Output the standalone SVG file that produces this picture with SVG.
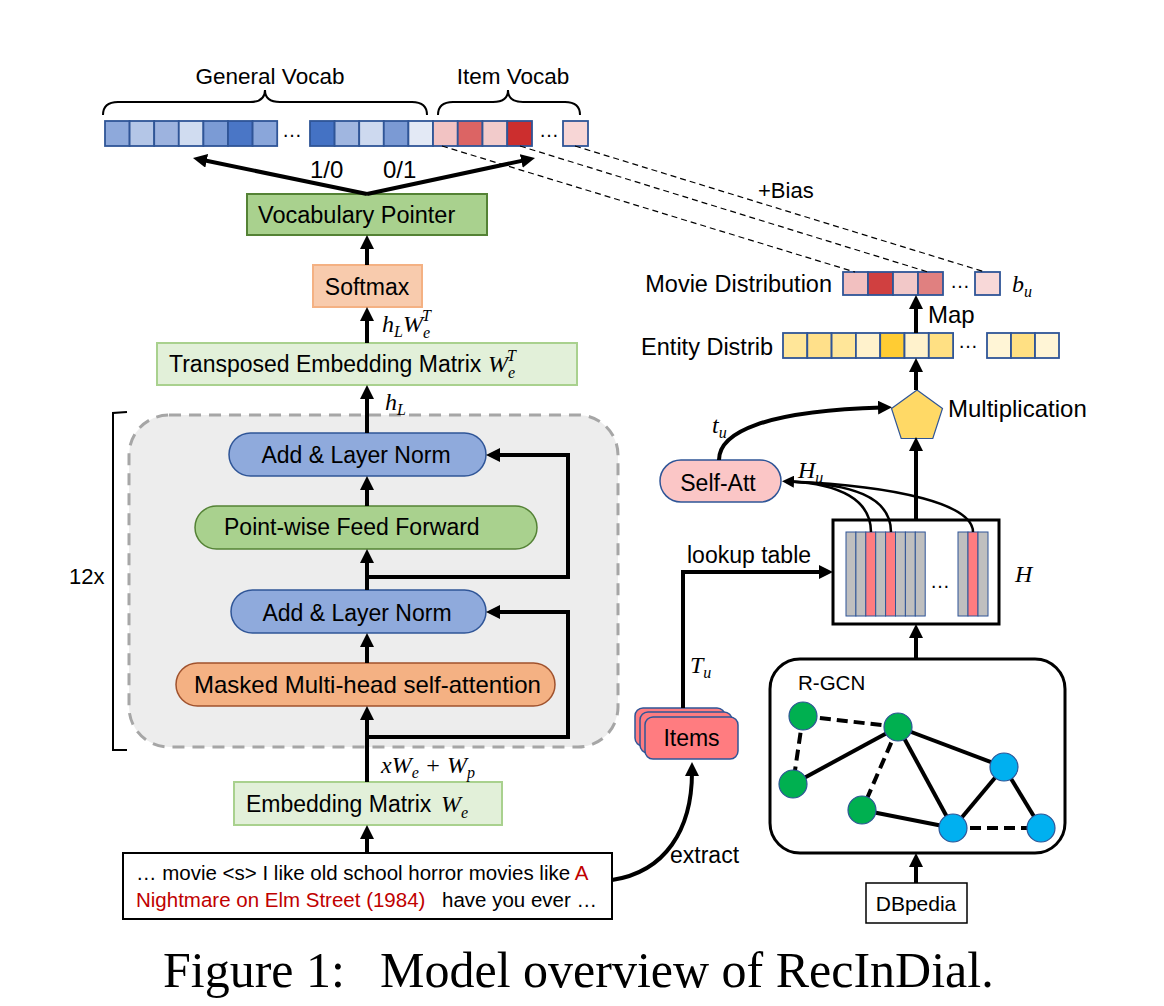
<svg xmlns="http://www.w3.org/2000/svg" width="1164" height="1006" viewBox="0 0 1164 1006">
<defs>
<style>
.t{font-family:"Liberation Sans",Arial,sans-serif;font-size:23px;fill:#000}
.m{font-family:"Liberation Serif","Times New Roman",serif;font-style:italic;font-size:24px;fill:#000}
.sub{font-size:16px}
.dots{font-size:20px}
.cell{stroke:#2f5597;stroke-width:1.8}
.col{stroke:#2f5597;stroke-width:1}
.ar{fill:none;stroke:#000;stroke-width:4;marker-end:url(#ah)}
.thin{fill:none;stroke:#000;stroke-width:2.5}
.dash{fill:none;stroke:#000;stroke-width:1.2;stroke-dasharray:6,4}
.edge{stroke:#000;stroke-width:4}
.edged{stroke:#000;stroke-width:4;stroke-dasharray:11,6}
.gn{fill:#00b050;stroke:#2f5597;stroke-width:1.2}
.bn{fill:#00b0f0;stroke:#2f5597;stroke-width:1.2}
</style>
<marker id="ah" viewBox="0 0 14 14" markerUnits="userSpaceOnUse" markerWidth="14" markerHeight="14" refX="4" refY="7" orient="auto">
<path d="M0,0 L14,7 L0,14 z" fill="#000"/>
</marker>
<marker id="ahs" viewBox="0 0 12 12" markerUnits="userSpaceOnUse" markerWidth="12" markerHeight="12" refX="4" refY="6" orient="auto">
<path d="M0,0 L12,6 L0,12 z" fill="#000"/>
</marker>
</defs>
<rect width="1164" height="1006" fill="#fff"/>

<!-- transformer container -->
<g id="container">
<rect x="129" y="415" width="489" height="332" rx="40" fill="#ededed" stroke="#a6a6a6" stroke-width="3" stroke-dasharray="12,8"/>
<path d="M127,412 L113,413 V750 H127" fill="none" stroke="#000" stroke-width="2"/>
<text class="t" x="69" y="584" style="font-size:22px">12x</text>
</g>

<!-- vocab bar -->
<g id="vocab">
<path d="M103,115 Q103,102 118,102 H250 Q265,102 265,90 Q265,102 280,102 H412 Q427,102 427,115" fill="none" stroke="#000" stroke-width="2"/>
<path d="M438,115 Q438,102 453,102 H493 Q508,102 508,90 Q508,102 523,102 H565 Q580,102 580,115" fill="none" stroke="#000" stroke-width="2"/>
<text class="t" x="270" y="84" text-anchor="middle" style="font-size:22.5px">General Vocab</text>
<text class="t" x="513" y="84" text-anchor="middle" style="font-size:22.5px">Item Vocab</text>
<rect class="cell" x="105" y="121" width="24.6" height="25" fill="#8ea9db"/>
<rect class="cell" x="129.6" y="121" width="24.6" height="25" fill="#b4c6e7"/>
<rect class="cell" x="154.2" y="121" width="24.6" height="25" fill="#9db3df"/>
<rect class="cell" x="178.8" y="121" width="24.6" height="25" fill="#d0dcf0"/>
<rect class="cell" x="203.4" y="121" width="24.6" height="25" fill="#7b9bd5"/>
<rect class="cell" x="228" y="121" width="24.6" height="25" fill="#4a76c6"/>
<rect class="cell" x="252.6" y="121" width="24.6" height="25" fill="#8aa6da"/>
<text class="t dots" x="292" y="137" text-anchor="middle">…</text>
<rect class="cell" x="310" y="121" width="24.6" height="25" fill="#4472c4"/>
<rect class="cell" x="334.6" y="121" width="24.6" height="25" fill="#a0b6e0"/>
<rect class="cell" x="359.2" y="121" width="24.6" height="25" fill="#cdd9ef"/>
<rect class="cell" x="383.8" y="121" width="24.6" height="25" fill="#7b9ad4"/>
<rect class="cell" x="408.4" y="121" width="24.6" height="25" fill="#e3e9f5"/>
<rect class="cell" x="433" y="121" width="24.75" height="25" fill="#f2c3c3"/>
<rect class="cell" x="457.75" y="121" width="24.75" height="25" fill="#dc6464"/>
<rect class="cell" x="482.5" y="121" width="24.75" height="25" fill="#f2cbcb"/>
<rect class="cell" x="507.25" y="121" width="24.75" height="25" fill="#cc2e2e"/>
<text class="t dots" x="549" y="137" text-anchor="middle">…</text>
<rect class="cell" x="563" y="121" width="25" height="25" fill="#f7d6d6"/>
</g>

<g id="vocab-pointer">
<rect x="247" y="194" width="240" height="41" fill="#a9d18e" stroke="#548235" stroke-width="2"/>
<text class="t" x="258" y="223" style="font-size:23.5px">Vocabulary Pointer</text>
</g>

<g id="softmax">
<rect x="313" y="265" width="109" height="42" fill="#f8cbad" stroke="#f4b183" stroke-width="2"/>
<text class="t" x="367" y="295" text-anchor="middle">Softmax</text>
</g>

<g id="transposed-embedding">
<rect x="157" y="343" width="420" height="42" fill="#e2f0d9" stroke="#a9d18e" stroke-width="2"/>
<text class="t" x="169" y="372">Transposed Embedding Matrix</text>
<text class="m" x="488" y="372">W<tspan class="sub" dy="6">e</tspan><tspan class="sub" dx="-8" dy="-17">T</tspan></text>
</g>

<g id="add-norm-top">
<rect x="229" y="433" width="257" height="43" rx="21.5" fill="#8faadc" stroke="#2f5597" stroke-width="1.5"/>
<text class="t" x="356" y="463" text-anchor="middle">Add &amp; Layer Norm</text>
</g>

<g id="feed-forward">
<rect x="195" y="506" width="342" height="43" rx="21.5" fill="#a9d18e" stroke="#548235" stroke-width="1.5"/>
<text class="t" x="224" y="535">Point-wise Feed Forward</text>
</g>

<g id="add-norm-bottom">
<rect x="231" y="590" width="255" height="43" rx="21.5" fill="#8faadc" stroke="#2f5597" stroke-width="1.5"/>
<text class="t" x="357" y="621" text-anchor="middle">Add &amp; Layer Norm</text>
</g>

<g id="masked-attention">
<rect x="176" y="663" width="379" height="43" rx="21.5" fill="#f4b183" stroke="#a0522d" stroke-width="1.5"/>
<text class="t" x="194" y="693" style="font-size:24px">Masked Multi-head self-attention</text>
</g>

<g id="embedding">
<rect x="234" y="782" width="268" height="43" fill="#e2f0d9" stroke="#a9d18e" stroke-width="2"/>
<text class="t" x="246" y="812">Embedding Matrix</text>
<text class="m" x="441" y="812">W<tspan class="sub" dy="6">e</tspan></text>
</g>

<g id="input-text">
<rect x="123" y="853" width="489" height="66" fill="#fff" stroke="#000" stroke-width="2"/>
<text class="t" x="136" y="880" style="font-size:20.5px">… movie &lt;s&gt; I like old school horror movies like <tspan fill="#c00000">A</tspan></text>
<text class="t" x="136" y="907" style="font-size:20.5px"><tspan fill="#c00000">Nightmare on Elm Street (1984)</tspan><tspan x="442">have you ever …</tspan></text>
</g>

<!-- right side -->
<g id="movie-distribution">
<text class="t" x="832" y="292" text-anchor="end" style="font-size:23.5px">Movie Distribution</text>
<rect class="cell" x="843" y="272" width="25" height="23" fill="#f2c0c0"/>
<rect class="cell" x="868" y="272" width="25" height="23" fill="#d04040"/>
<rect class="cell" x="893" y="272" width="25" height="23" fill="#f2c8c8"/>
<rect class="cell" x="918" y="272" width="25" height="23" fill="#e08080"/>
<text class="t dots" x="960" y="288" text-anchor="middle">…</text>
<rect class="cell" x="975" y="272" width="25" height="23" fill="#f8d8d8"/>
<text class="m" x="1012" y="292">b<tspan class="sub" dy="5">u</tspan></text>
</g>

<g id="entity-distribution">
<text class="t" x="773" y="355" text-anchor="end" style="font-size:23.5px">Entity Distrib</text>
<rect class="cell" x="783" y="333" width="24.3" height="25" fill="#ffe699"/>
<rect class="cell" x="807.3" y="333" width="24.3" height="25" fill="#ffe08a"/>
<rect class="cell" x="831.6" y="333" width="24.3" height="25" fill="#ffe699"/>
<rect class="cell" x="855.9" y="333" width="24.3" height="25" fill="#fff2cc"/>
<rect class="cell" x="880.2" y="333" width="24.3" height="25" fill="#ffcc33"/>
<rect class="cell" x="904.5" y="333" width="24.3" height="25" fill="#fff2cc"/>
<rect class="cell" x="928.8" y="333" width="24.3" height="25" fill="#ffe083"/>
<text class="t dots" x="968" y="348" text-anchor="middle">…</text>
<rect class="cell" x="987" y="333" width="24" height="25" fill="#fff5d6"/>
<rect class="cell" x="1011" y="333" width="24" height="25" fill="#ffe083"/>
<rect class="cell" x="1035" y="333" width="24" height="25" fill="#fff5d6"/>
</g>

<g id="multiplication">
<polygon points="917,390 942.5,408.5 932.8,438.5 901.2,438.5 891.5,408.5" fill="#ffd966" stroke="#2f5597" stroke-width="1.2"/>
<text class="t" x="948" y="417" style="font-size:24px">Multiplication</text>
</g>

<g id="self-att">
<rect x="660" y="460" width="121" height="42" rx="21" fill="#fbc6c6" stroke="#2f5597" stroke-width="1.5"/>
<text class="t" x="718" y="491" text-anchor="middle">Self-Att</text>
</g>

<g id="h-matrix">
<rect x="833" y="520" width="166" height="104" fill="#fff" stroke="#000" stroke-width="3"/>
<rect class="col" x="846" y="532" width="9.9" height="84" fill="#bfbfbf"/>
<rect class="col" x="855.9" y="532" width="9.9" height="84" fill="#bfbfbf"/>
<rect class="col" x="865.8" y="532" width="9.9" height="84" fill="#ff7c80"/>
<rect class="col" x="875.7" y="532" width="9.9" height="84" fill="#bfbfbf"/>
<rect class="col" x="885.6" y="532" width="9.9" height="84" fill="#ff7c80"/>
<rect class="col" x="895.5" y="532" width="9.9" height="84" fill="#bfbfbf"/>
<rect class="col" x="905.4" y="532" width="9.9" height="84" fill="#bfbfbf"/>
<rect class="col" x="915.3" y="532" width="9.9" height="84" fill="#bfbfbf"/>
<text class="t dots" x="940" y="588" text-anchor="middle">…</text>
<rect class="col" x="958" y="532" width="10" height="84" fill="#bfbfbf"/>
<rect class="col" x="968" y="532" width="10" height="84" fill="#ff7c80"/>
<rect class="col" x="978" y="532" width="10" height="84" fill="#bfbfbf"/>
<text class="m" x="1015" y="582">H</text>
</g>

<g id="items">
<rect x="635" y="708" width="90" height="38" rx="8" fill="#ff7c80" stroke="#2f5597" stroke-width="1.5"/>
<rect x="640" y="712" width="92" height="41" rx="8" fill="#ff7c80" stroke="#2f5597" stroke-width="1.5"/>
<rect x="645" y="717" width="93" height="42" rx="8" fill="#ff7c80" stroke="#2f5597" stroke-width="1.5"/>
<text class="t" x="691.5" y="746" text-anchor="middle">Items</text>
</g>

<g id="rgcn">
<rect x="770" y="659" width="295" height="194" rx="30" fill="#fff" stroke="#000" stroke-width="3"/>
<text class="t" x="798" y="690" style="font-size:20.5px">R-GCN</text>
<line class="edged" x1="803" y1="716" x2="898" y2="727"/>
<line class="edged" x1="803" y1="716" x2="793" y2="784"/>
<line class="edge" x1="793" y1="784" x2="898" y2="727"/>
<line class="edged" x1="898" y1="727" x2="862" y2="810"/>
<line class="edge" x1="898" y1="727" x2="953" y2="828"/>
<line class="edge" x1="898" y1="727" x2="1004" y2="767"/>
<line class="edge" x1="862" y1="810" x2="953" y2="828"/>
<line class="edge" x1="953" y1="828" x2="1004" y2="767"/>
<line class="edge" x1="1004" y1="767" x2="1041" y2="828"/>
<line class="edged" x1="953" y1="828" x2="1041" y2="828"/>
<circle class="gn" cx="803" cy="716" r="14"/>
<circle class="gn" cx="898" cy="727" r="14"/>
<circle class="gn" cx="793" cy="784" r="14"/>
<circle class="gn" cx="862" cy="810" r="14"/>
<circle class="bn" cx="1004" cy="767" r="14"/>
<circle class="bn" cx="953" cy="828" r="14"/>
<circle class="bn" cx="1041" cy="828" r="14"/>
</g>

<g id="dbpedia">
<rect x="866" y="883" width="101" height="40" fill="#fff" stroke="#000" stroke-width="1.5"/>
<text class="t" x="916" y="911" text-anchor="middle" style="font-size:21px">DBpedia</text>
</g>

<!-- connectors -->
<g id="connectors">
<path class="ar" d="M367,194 L202.8,160"/>
<path class="ar" d="M367,194 L525.2,160.1"/>
<path class="ar" d="M367,265 V245"/>
<path class="ar" d="M367,343 V317"/>
<path class="ar" d="M367,433 V395"/>
<path class="ar" d="M367,506 V486"/>
<path class="ar" d="M367,590 V559"/>
<path class="ar" d="M367,663 V643"/>
<path class="ar" d="M367,782 V716"/>
<path class="ar" d="M367,853 V835"/>
<path class="ar" d="M367,737 H568 V612 H496"/>
<path class="ar" d="M367,577 H568 V455 H496"/>
<path class="dash" d="M442,146 L855,272"/>
<path class="dash" d="M520,146 L928,272"/>
<path class="dash" d="M575,146 L985,272"/>
<path class="ar" d="M916,333 V305"/>
<path class="ar" d="M916,390 V368"/>
<path class="ar" d="M916,520 V447"/>
<path class="ar" d="M916,659 V634"/>
<path class="ar" d="M916,883 V863"/>
<path class="ar" d="M719,460 C719,432 765,411 882,407.5"/>
<path class="thin" d="M871,532 C871,500 840,484 790,481.5"/>
<path class="thin" d="M973,532 C973,505 900,486 790,481.5"/>
<path class="thin" style="marker-end:url(#ahs)" d="M891,532 C891,496 850,484 790,481.5"/>
<path class="ar" d="M683,708 V572 H823"/>
<path class="ar" d="M612,880 C665,872 692,830 692,772"/>
</g>

<g id="labels">
<text class="t" x="310" y="178" style="font-size:24px">1/0</text>
<text class="t" x="383" y="178" style="font-size:24px">0/1</text>
<text class="t" x="758" y="198" style="font-size:22px">+Bias</text>
<text class="t" x="928" y="323" style="font-size:24px">Map</text>
<text class="m" x="382" y="332">h<tspan class="sub" dy="5">L</tspan><tspan dy="-5">W</tspan><tspan class="sub" dy="6">e</tspan><tspan class="sub" dx="-8" dy="-17">T</tspan></text>
<text class="m" x="385" y="410">h<tspan class="sub" dy="5">L</tspan></text>
<text class="m" x="381" y="773">xW<tspan class="sub" dy="5">e</tspan><tspan dy="-5"> + W</tspan><tspan class="sub" dy="5">p</tspan></text>
<text class="m" x="712" y="433">t<tspan class="sub" dy="5">u</tspan></text>
<text class="m" x="798" y="478">H<tspan class="sub" dy="5">u</tspan></text>
<text class="m" x="690" y="673">T<tspan class="sub" dy="5">u</tspan></text>
<text class="t" x="687" y="563">lookup table</text>
<text class="t" x="670" y="863">extract</text>
</g>

<text x="163" y="987" font-family="Liberation Serif,'Times New Roman',serif" font-size="50">Figure 1:<tspan x="380">Model overview of RecInDial.</tspan></text>
</svg>
